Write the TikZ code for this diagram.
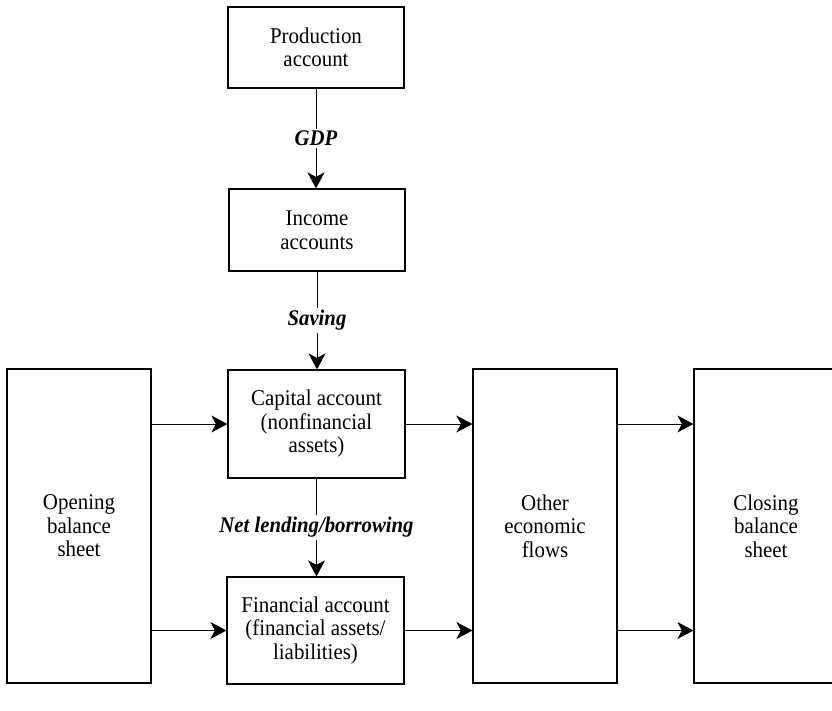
\documentclass[tikz,border=0pt]{standalone}
\usepackage{fontspec}
\setmainfont{Liberation Serif}[FakeStretch=0.93]
\usetikzlibrary{arrows.meta}
\begin{document}
\begin{tikzpicture}[x=1pt,y=-1pt,
  box/.style={draw, line width=1.2pt, align=center, inner sep=0pt, font=\fontsize{22.5}{23.5}\selectfont},
  arr/.style={line width=1pt, -{Stealth[length=16pt,width=17pt,inset=4.5pt]}},
  lab/.style={fill=white, font=\fontsize{22.3}{22}\selectfont\bfseries\itshape, inner sep=2pt}]
\useasboundingbox (0,0) rectangle (832,710);
\node[box, minimum width=176pt, minimum height=81pt] (prod) at (316,47.5) {Production\\account};
\node[box, minimum width=176pt, minimum height=82pt] (inc) at (317,230) {Income\\accounts};
\node[box, minimum width=177pt, minimum height=108pt] (cap) at (316.5,424) {Capital account\\(nonfinancial\\assets)};
\node[box, minimum width=177pt, minimum height=107pt] (fin) at (315.5,630.5) {Financial account\\(financial assets/\\liabilities)};
\node[box, minimum width=144pt, minimum height=314pt] (open) at (79,526) {Opening\\balance\\sheet};
\node[box, minimum width=144pt, minimum height=314pt] (other) at (545,526) {Other\\economic\\flows};
\node[box, minimum width=144pt, minimum height=314pt] (close) at (766,526) {Closing\\balance\\sheet};
\draw[arr] (prod.south) -- node[lab] {GDP} (prod.south |- inc.north);
\draw[arr] (inc.south) -- node[lab] {Saving} (inc.south |- cap.north);
\draw[arr] (cap.south) -- node[lab] {Net lending/borrowing} (cap.south |- fin.north);
\draw[arr] (open.east |- cap.west) -- (cap.west);
\draw[arr] (open.east |- fin.west) -- (fin.west);
\draw[arr] (cap.east) -- (other.west |- cap.east);
\draw[arr] (fin.east) -- (other.west |- fin.east);
\draw[arr] (other.east |- cap.east) -- (close.west |- cap.east);
\draw[arr] (other.east |- fin.east) -- (close.west |- fin.east);
\end{tikzpicture}
\end{document}
